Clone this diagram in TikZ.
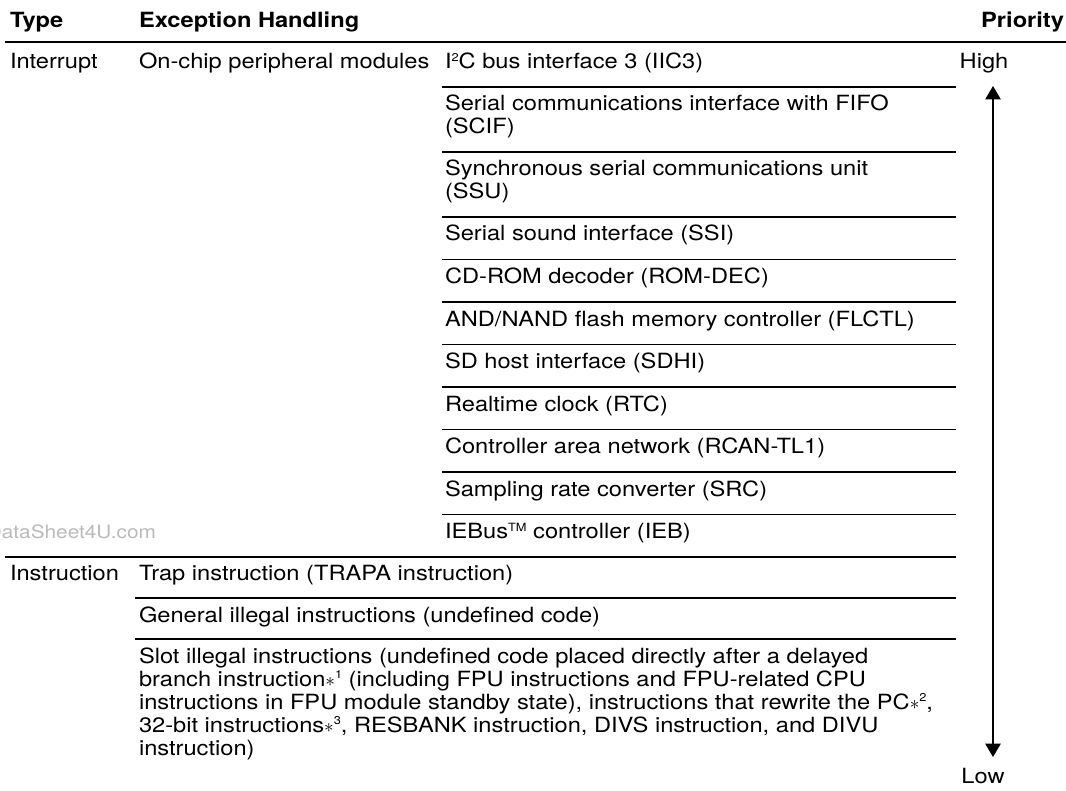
\documentclass[tikz,border=0pt]{standalone}
\usepackage{fontspec}
\setmainfont{TeX Gyre Heros}[FakeStretch=1.13]
\usetikzlibrary{arrows.meta, positioning}
\newcommand{\smallsup}[1]{\raisebox{5.4pt}{\fontsize{8.5}{8.5}\selectfont #1}}
\newcommand{\noteref}[1]{$\ast$\smallsup{#1}}

\begin{document}
\begin{tikzpicture}[
        x=0.75pt,
        y=-0.75pt,
        every node/.style={
            inner sep=0pt,
            outer sep=0pt,
            font=\fontsize{15.7}{17.25}\selectfont
        },
        cell/.style={
            anchor=base west,
            align=left
        },
        head/.style={
            cell,
            font=\fontsize{15.7}{17.25}\selectfont\bfseries
        },
        level/.style={
            anchor=base
        },
        watermark/.style={
            anchor=base east,
            text=black!27,
            font=\fontsize{13.8}{15}\selectfont
        },
        headrule/.style={
            line width=2.2pt
        },
        rowrule/.style={
            line width=1.4pt
        },
        arrow/.style={
            line width=1.1pt,
            {Triangle[length=10pt, width=11.5pt]}-{Triangle[length=10pt, width=11.5pt]}
        }
    ]
        \useasboundingbox (0,0) rectangle (1066,791);

        \node (type) [head] at (10,27.5) {Type};
        \node (handling) [head] at (139,27.5) {Exception Handling};
        \node (priority) [head, anchor=base east] at (1064,27.5) {Priority};

        \node (interrupt) [cell] at (10,68.5) {Interrupt};
        \node (onchip) [cell] at (139,68.5) {On-chip peripheral modules};
        \node (iic) [cell] at (445,68.5) {I\smallsup{2}C bus interface 3 (IIC3)};
        \node (scif) [cell] at (445,134) {Serial communications interface with FIFO\\(SCIF)};
        \node (ssu) [cell] at (445,199) {Synchronous serial communications unit\\(SSU)};
        \node (ssi) [cell] at (445,241) {Serial sound interface (SSI)};
        \node (romdec) [cell] at (445,283.5) {CD-ROM decoder (ROM-DEC)};
        \node (flctl) [cell] at (445,326) {AND/NAND flash memory controller (FLCTL)};
        \node (sdhi) [cell] at (445,368.5) {SD host interface (SDHI)};
        \node (rtc) [cell] at (445,411) {Realtime clock (RTC)};
        \node (rcan) [cell] at (445,453.5) {Controller area network (RCAN-TL1)};
        \node (src) [cell] at (445,496) {Sampling rate converter (SRC)};
        \node (ieb) [cell] at (445,538.5) {IEBus\smallsup{TM} controller (IEB)};
        \node (site) [watermark] at (156,538.5) {DataSheet4U.com};

        \node (instruction) [cell] at (10,580) {Instruction};
        \node (trapa) [cell] at (139,580) {Trap instruction (TRAPA instruction)};
        \node (general) [cell] at (139,622) {General illegal instructions (undefined code)};
        \node (slot) [cell] at (139,755) {Slot illegal instructions (undefined code placed directly after a delayed\\branch instruction\noteref{1} (including FPU instructions and FPU-related CPU\\instructions in FPU module standby state), instructions that rewrite the PC\noteref{2},\\32-bit instructions\noteref{3}, RESBANK instruction, DIVS instruction, and DIVU\\instruction)};

        \node (high) [level] at (984,68.5) {High};
        \node (low) [level] at (983,783) {Low};
        \coordinate (hightip) at (993,86);
        \coordinate (lowtip) at (993,757);

        \draw [headrule] (5,42) -- (1066,42);
        \draw [rowrule] (442,87) -- (956,87);
        \draw [rowrule] (442,152) -- (956,152);
        \draw [rowrule] (442,217) -- (956,217);
        \draw [rowrule] (442,259.5) -- (956,259.5);
        \draw [rowrule] (442,302) -- (956,302);
        \draw [rowrule] (442,344.5) -- (956,344.5);
        \draw [rowrule] (442,387) -- (956,387);
        \draw [rowrule] (442,429.5) -- (956,429.5);
        \draw [rowrule] (442,472) -- (956,472);
        \draw [rowrule] (442,514.5) -- (956,514.5);
        \draw [headrule] (5,557) -- (956,557);
        \draw [rowrule] (135,598) -- (956,598);
        \draw [rowrule] (135,639) -- (956,639);

        \draw [arrow] (hightip) -- (lowtip);

    \end{tikzpicture}
\end{document}
